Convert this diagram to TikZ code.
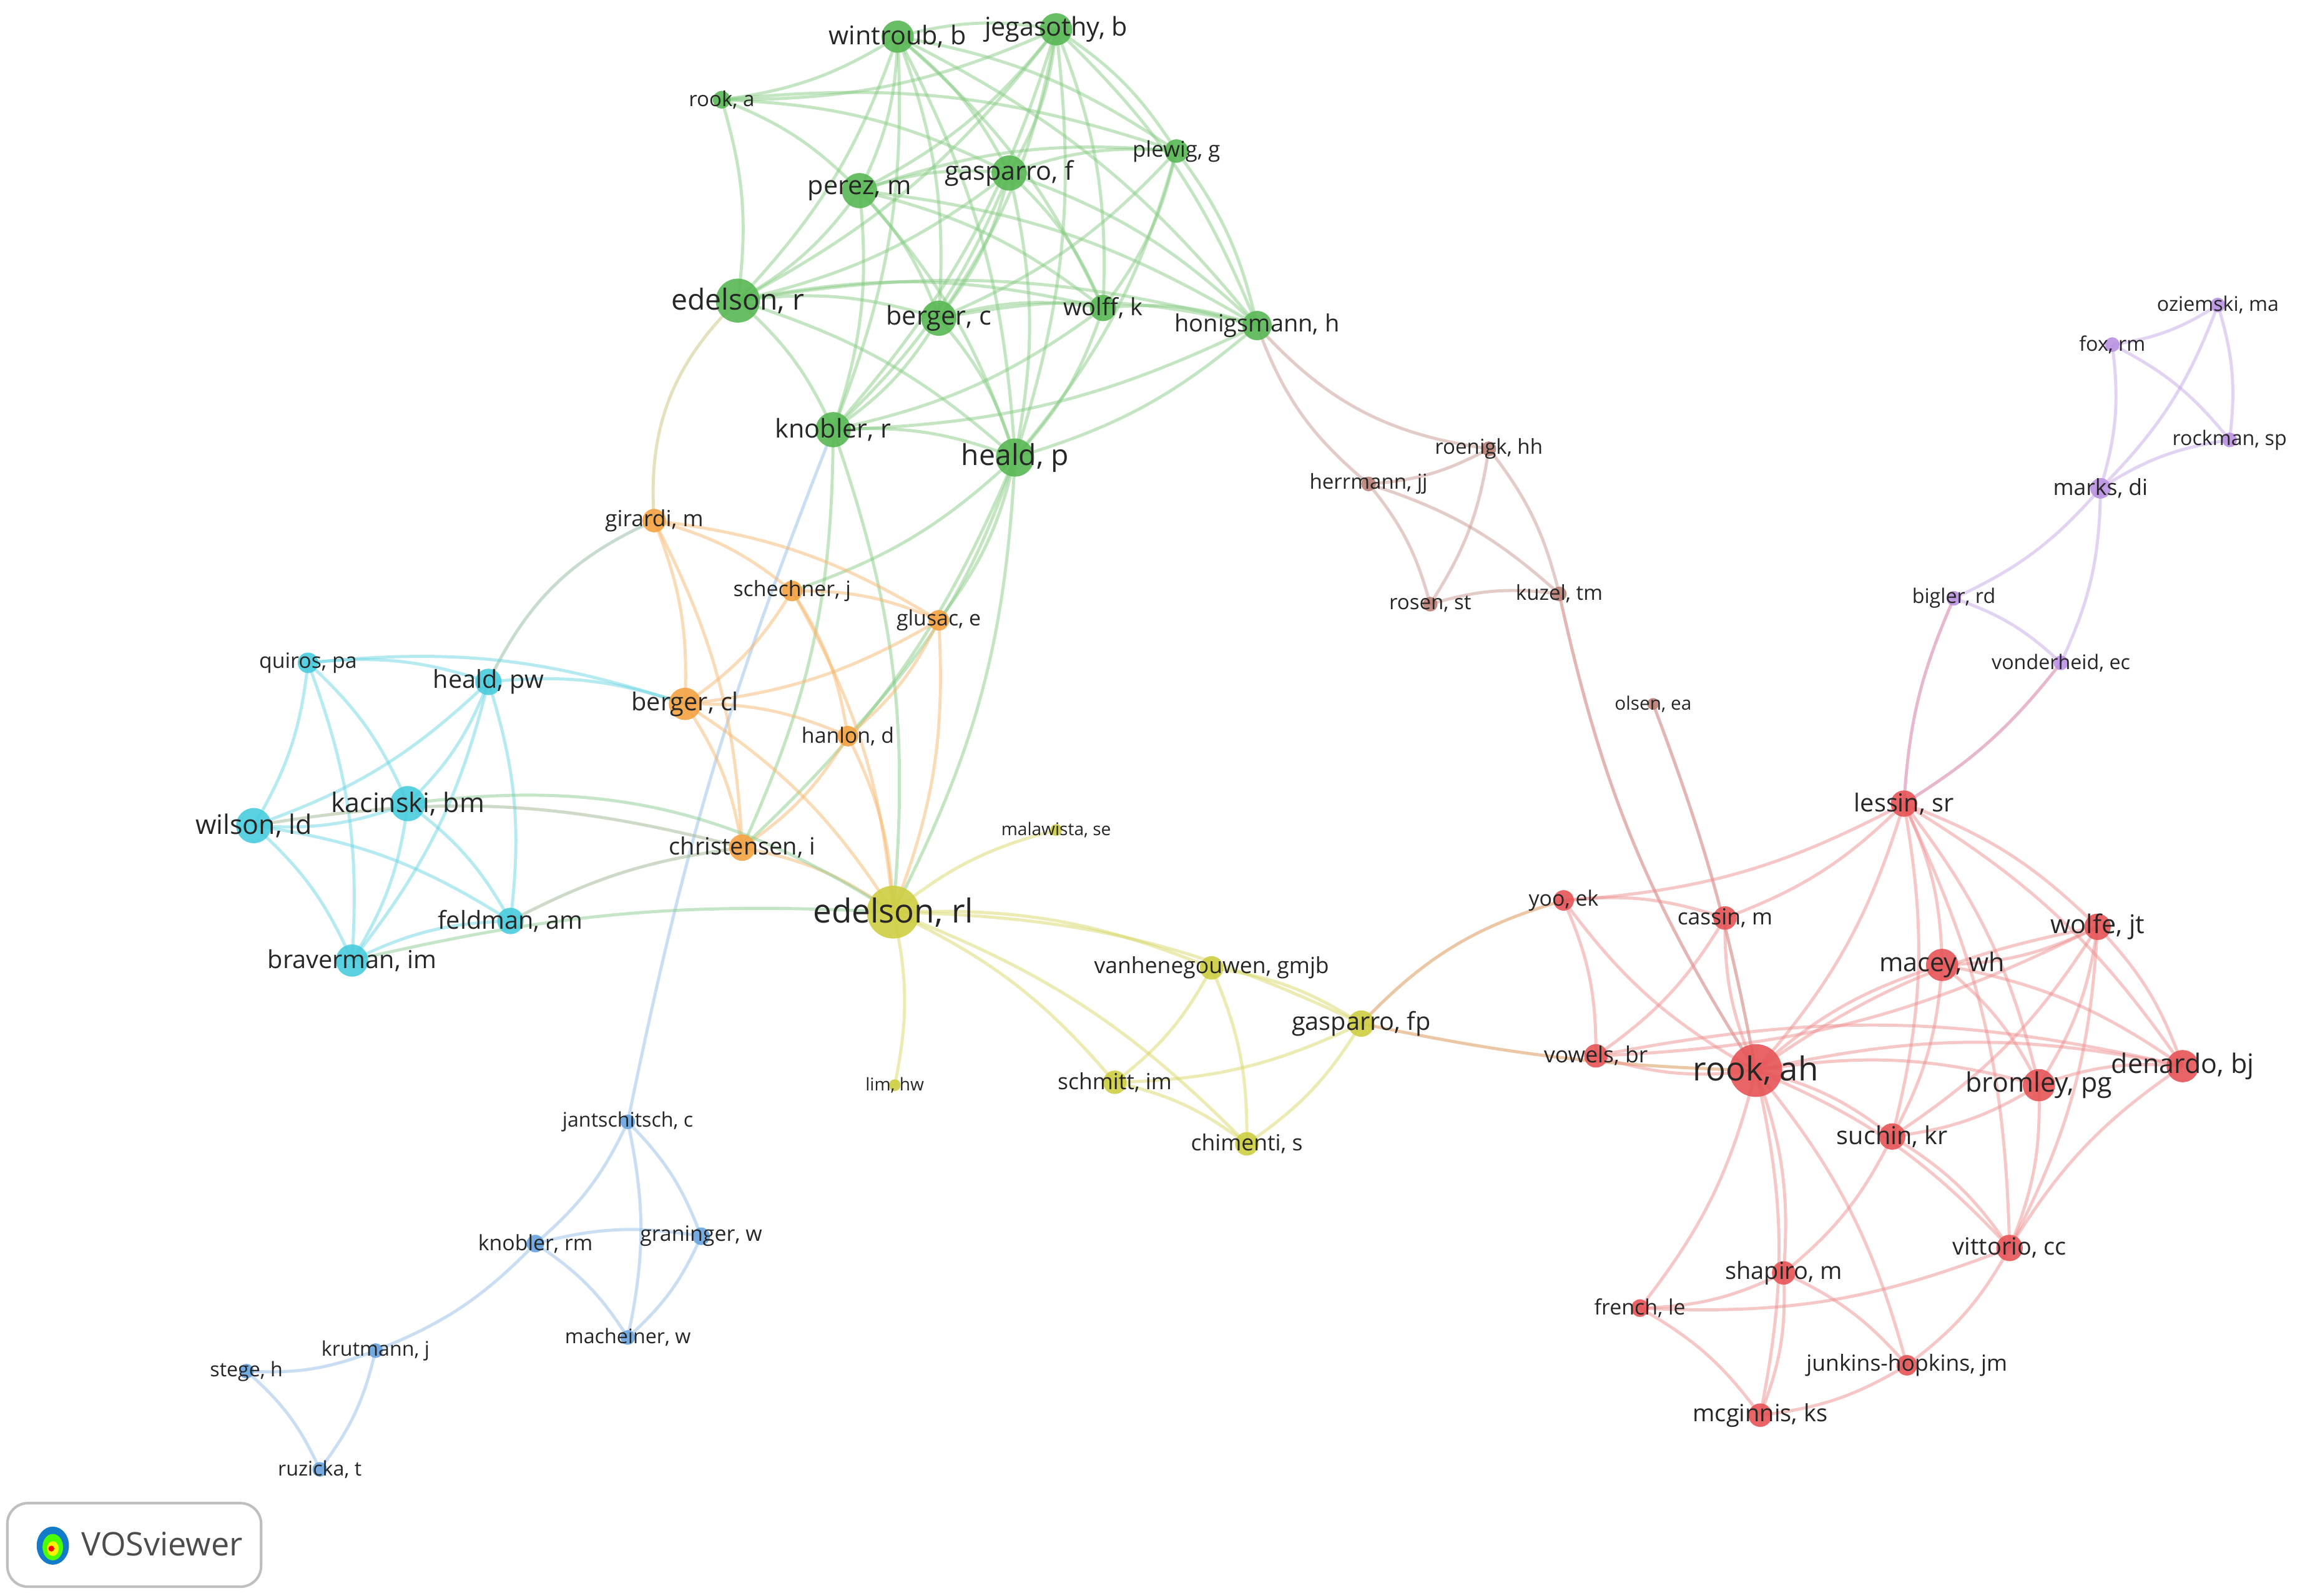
\documentclass[tikz,border=0pt]{standalone}
\usepackage{fontspec}
\setmainfont{Open Sans}
\definecolor{grn}{RGB}{88,184,84}
\definecolor{cyn}{RGB}{72,204,222}
\definecolor{org}{RGB}{244,162,66}
\definecolor{yel}{RGB}{206,206,66}
\definecolor{brn}{RGB}{186,128,118}
\definecolor{prp}{RGB}{186,146,226}
\definecolor{rd}{RGB}{230,84,86}
\definecolor{blu}{RGB}{104,164,222}
\tikzset{
  edge/.style={line width=0.6pt, opacity=0.5, bend left=12},
  authorlabel/.style={inner sep=0pt, text=black!85}
}
\begin{document}
\begin{tikzpicture}[x=0.01cm,y=-0.01cm]
\useasboundingbox[fill=white] (0,0) rectangle (1568,1088);
%authors: name/x/y/radius/colour/font size/label
\foreach \id/\x/\y/\r/\c/\fs/\lab in {
  wintroubb/612/25/11/grn/5/{wintroub, b},
  jegasothyb/720/20/11/grn/5/{jegasothy, b},
  rooka/492/68/6/grn/4/{rook, a},
  perezm/586/130/12/grn/5/{perez, m},
  gasparrof/688/118/12/grn/5/{gasparro, f},
  plewigg/802/103/8/grn/4.2/{plewig, g},
  edelsonr/503/205/15/grn/5.6/{edelson, r},
  bergerc/640/217/12/grn/5/{berger, c},
  wolffk/752/210/9/grn/4.6/{wolff, k},
  honigsmannh/857/222/10/grn/4.6/{honigsmann, h},
  knoblerr/568/293/12/grn/5/{knobler, r},
  healdp/692/312/13/grn/5.6/{heald, p},
  girardim/446/355/8/org/4.3/{girardi, m},
  schechnerj/540/403/7/org/4.1/{schechner, j},
  glusace/640/423/7/org/4.1/{glusac, e},
  bergercl/467/480/11/org/4.8/{berger, cl},
  hanlond/578/502/7/org/4.1/{hanlon, d},
  christenseni/506/578/9/org/4.6/{christensen, i},
  quirospa/210/452/7/cyn/4.1/{quiros, pa},
  healdpw/333/465/9/cyn/4.8/{heald, pw},
  kacinskibm/278/548/12/cyn/5.2/{kacinski, bm},
  wilsonld/173/563/12/cyn/5.2/{wilson, ld},
  feldmanam/348/628/9/cyn/4.8/{feldman, am},
  bravermanim/240/655/11/cyn/4.8/{braverman, im},
  edelsonrl/609/622/18/yel/6.4/{edelson, rl},
  malawistase/720/566/4/yel/3.4/{malawista, se},
  vanhenegouwengmjb/826/660/8/yel/4.3/{vanhenegouwen, gmjb},
  gasparrofp/928/698/9/yel/4.8/{gasparro, fp},
  schmittim/760/738/8/yel/4.3/{schmitt, im},
  chimentis/850/780/8/yel/4.3/{chimenti, s},
  limhw/610/740/4/yel/3.4/{lim, hw},
  roenigkhh/1015/306/5/brn/4/{roenigk, hh},
  herrmannjj/933/330/5/brn/4/{herrmann, jj},
  rosenst/975/412/5/brn/4/{rosen, st},
  kuzeltm/1063/405/5/brn/4/{kuzel, tm},
  olsenea/1127/480/4/brn/3.6/{olsen, ea},
  oziemskima/1512/208/5/prp/3.9/{oziemski, ma},
  foxrm/1440/235/5/prp/3.9/{fox, rm},
  rockmansp/1520/300/5/prp/3.9/{rockman, sp},
  marksdi/1432/333/7/prp/4.3/{marks, di},
  biglerrd/1332/408/5/prp/3.9/{bigler, rd},
  vonderheidec/1405/452/5/prp/3.9/{vonderheid, ec},
  lessinsr/1298/548/9/rd/4.8/{lessin, sr},
  yooek/1066/614/7/rd/4.1/{yoo, ek},
  cassinm/1176/626/8/rd/4.3/{cassin, m},
  wolfejt/1430/632/9/rd/5/{wolfe, jt},
  maceywh/1324/658/11/rd/5/{macey, wh},
  vowelsbr/1088/720/8/rd/4.3/{vowels, br},
  rookah/1197/730/18/rd/6.4/{rook, ah},
  bromleypg/1390/740/11/rd/5.2/{bromley, pg},
  denardobj/1488/727/11/rd/5.2/{denardo, bj},
  suchinkr/1290/775/9/rd/4.8/{suchin, kr},
  vittoriocc/1370/851/9/rd/4.6/{vittorio, cc},
  shapirom/1216/868/8/rd/4.6/{shapiro, m},
  frenchle/1118/892/6/rd/4.1/{french, le},
  junkinshopkinsjm/1300/931/7/rd/4.3/{junkins-hopkins, jm},
  mcginnisks/1200/965/8/rd/4.6/{mcginnis, ks},
  jantschitschc/428/765/5/blu/3.9/{jantschitsch, c},
  knoblerrm/365/848/6/blu/4.1/{knobler, rm},
  graningerw/478/843/6/blu/4.1/{graninger, w},
  macheinerw/428/912/5/blu/3.9/{macheiner, w},
  krutmannj/256/921/5/blu/3.9/{krutmann, j},
  stegeh/168/935/5/blu/3.9/{stege, h},
  ruzickat/218/1002/5/blu/3.9/{ruzicka, t}}
  \coordinate (\id) at (\x,\y);
%green links
\foreach \a/\b in {wintroubb/jegasothyb, wintroubb/rooka, wintroubb/perezm, wintroubb/gasparrof,
  wintroubb/plewigg, wintroubb/edelsonr, wintroubb/bergerc, wintroubb/wolffk, wintroubb/honigsmannh,
  wintroubb/knoblerr, wintroubb/healdp, jegasothyb/rooka, jegasothyb/perezm, jegasothyb/gasparrof,
  jegasothyb/plewigg, jegasothyb/edelsonr, jegasothyb/bergerc, jegasothyb/wolffk,
  jegasothyb/honigsmannh, jegasothyb/knoblerr, jegasothyb/healdp, rooka/perezm, rooka/gasparrof,
  rooka/plewigg, rooka/edelsonr, perezm/gasparrof, perezm/plewigg, perezm/edelsonr, perezm/bergerc,
  perezm/wolffk, perezm/honigsmannh, perezm/knoblerr, perezm/healdp, gasparrof/plewigg,
  gasparrof/edelsonr, gasparrof/bergerc, gasparrof/wolffk, gasparrof/honigsmannh,
  gasparrof/knoblerr, gasparrof/healdp, plewigg/bergerc, plewigg/wolffk, plewigg/honigsmannh,
  plewigg/healdp, edelsonr/bergerc, edelsonr/wolffk, edelsonr/honigsmannh, edelsonr/knoblerr,
  edelsonr/healdp, bergerc/wolffk, bergerc/honigsmannh, bergerc/knoblerr, bergerc/healdp,
  wolffk/honigsmannh, wolffk/knoblerr, wolffk/healdp, honigsmannh/knoblerr, honigsmannh/healdp,
  knoblerr/healdp, healdp/edelsonrl, healdp/schechnerj, healdp/christenseni, healdp/hanlond,
  knoblerr/edelsonrl, knoblerr/christenseni, healdp/glusace}
  \draw[edge, grn!70!white] (\a) to (\b);
\draw[edge, org!60!grn!70!white] (edelsonr) to[bend right=25] (girardim);
\draw[edge, blu!70!white] (knoblerr) to[bend right=5] (jantschitschc);
\draw[edge, brn!80!white] (honigsmannh) to[bend right=20] (roenigkhh);
\draw[edge, brn!80!white] (honigsmannh) to[bend right=15] (herrmannjj);
\draw[edge, cyn!60!org] (girardim) to[bend right=20] (healdpw);
%orange links
\foreach \a/\b in {girardim/schechnerj, girardim/bergercl, girardim/christenseni, girardim/glusace,
  schechnerj/glusace, schechnerj/bergercl, schechnerj/hanlond, schechnerj/edelsonrl,
  glusace/bergercl, glusace/hanlond, glusace/edelsonrl, bergercl/christenseni, bergercl/edelsonrl,
  bergercl/hanlond, hanlond/christenseni, hanlond/edelsonrl, christenseni/edelsonrl}
  \draw[edge, org!75!white] (\a) to (\b);
%cyan links
\foreach \a/\b in {quirospa/healdpw, quirospa/kacinskibm, quirospa/wilsonld, quirospa/bravermanim,
  quirospa/bergercl, healdpw/kacinskibm, healdpw/wilsonld, healdpw/bravermanim, healdpw/feldmanam,
  healdpw/bergercl, kacinskibm/wilsonld, kacinskibm/bravermanim, kacinskibm/feldmanam,
  wilsonld/bravermanim, wilsonld/feldmanam, bravermanim/feldmanam}
  \draw[edge, cyn!80!white] (\a) to (\b);
\draw[edge, cyn!50!yel] (kacinskibm) to[bend left=20] (edelsonrl);
\draw[edge, cyn!50!yel] (bravermanim) to[bend left=8] (edelsonrl);
\draw[edge, cyn!50!org] (feldmanam) to[bend left=10] (christenseni);
\draw[edge, cyn!50!org] (wilsonld) to[bend left=12] (christenseni);
%yellow links
\foreach \a/\b in {edelsonrl/malawistase, edelsonrl/vanhenegouwengmjb, edelsonrl/gasparrofp,
  edelsonrl/schmittim, edelsonrl/chimentis, edelsonrl/limhw, vanhenegouwengmjb/gasparrofp,
  vanhenegouwengmjb/schmittim, vanhenegouwengmjb/chimentis, gasparrofp/schmittim,
  gasparrofp/chimentis, schmittim/chimentis}
  \draw[edge, yel!80!white] (\a) to (\b);
\draw[edge, yel!50!rd] (gasparrofp) to[bend left=15] (yooek);
\draw[edge, yel!50!rd] (gasparrofp) to[bend right=5] (rookah);
%brown links
\foreach \a/\b in {roenigkhh/herrmannjj, roenigkhh/rosenst, roenigkhh/kuzeltm, herrmannjj/rosenst,
  herrmannjj/kuzeltm, rosenst/kuzeltm}
  \draw[edge, brn!80!white] (\a) to (\b);
\draw[edge, brn!60!rd] (kuzeltm) to[bend right=10] (rookah);
\draw[edge, brn!60!rd] (olsenea) to[bend left=5] (rookah);
%purple links
\foreach \a/\b in {oziemskima/foxrm, oziemskima/rockmansp, oziemskima/marksdi, foxrm/rockmansp,
  foxrm/marksdi, marksdi/rockmansp, marksdi/biglerrd, marksdi/vonderheidec, biglerrd/vonderheidec}
  \draw[edge, prp!80!white] (\a) to (\b);
\draw[edge, prp!50!rd] (biglerrd) to[bend right=10] (lessinsr);
\draw[edge, prp!50!rd] (vonderheidec) to[bend left=10] (lessinsr);
%red links
\foreach \a/\b in {lessinsr/rookah, lessinsr/wolfejt, lessinsr/maceywh, lessinsr/bromleypg,
  lessinsr/denardobj, lessinsr/suchinkr, lessinsr/cassinm, lessinsr/yooek, lessinsr/vittoriocc,
  rookah/yooek, rookah/cassinm, rookah/wolfejt, rookah/maceywh, rookah/vowelsbr, rookah/bromleypg,
  rookah/denardobj, rookah/suchinkr, rookah/vittoriocc, rookah/shapirom, rookah/frenchle,
  rookah/junkinshopkinsjm, rookah/mcginnisks, wolfejt/maceywh, wolfejt/bromleypg, wolfejt/denardobj,
  wolfejt/suchinkr, wolfejt/vittoriocc, wolfejt/vowelsbr, maceywh/bromleypg, maceywh/denardobj,
  maceywh/suchinkr, bromleypg/denardobj, bromleypg/suchinkr, bromleypg/vittoriocc,
  suchinkr/vittoriocc, suchinkr/shapirom, vittoriocc/denardobj, vittoriocc/junkinshopkinsjm,
  vittoriocc/frenchle, shapirom/mcginnisks, shapirom/junkinshopkinsjm, shapirom/frenchle,
  junkinshopkinsjm/mcginnisks, frenchle/mcginnisks, yooek/vowelsbr, cassinm/vowelsbr, yooek/cassinm,
  vowelsbr/denardobj}
  \draw[edge, rd!65!white] (\a) to (\b);
%blue links
\foreach \a/\b in {jantschitschc/knoblerrm, jantschitschc/graningerw, jantschitschc/macheinerw,
  knoblerrm/graningerw, knoblerrm/macheinerw, graningerw/macheinerw, knoblerrm/krutmannj,
  krutmannj/stegeh, krutmannj/ruzickat, stegeh/ruzickat}
  \draw[edge, blu!70!white] (\a) to (\b);
%circles and labels
\foreach \id/\x/\y/\r/\c/\fs/\lab in {
  wintroubb/612/25/11/grn/5/{wintroub, b},
  jegasothyb/720/20/11/grn/5/{jegasothy, b},
  rooka/492/68/6/grn/4/{rook, a},
  perezm/586/130/12/grn/5/{perez, m},
  gasparrof/688/118/12/grn/5/{gasparro, f},
  plewigg/802/103/8/grn/4.2/{plewig, g},
  edelsonr/503/205/15/grn/5.6/{edelson, r},
  bergerc/640/217/12/grn/5/{berger, c},
  wolffk/752/210/9/grn/4.6/{wolff, k},
  honigsmannh/857/222/10/grn/4.6/{honigsmann, h},
  knoblerr/568/293/12/grn/5/{knobler, r},
  healdp/692/312/13/grn/5.6/{heald, p},
  girardim/446/355/8/org/4.3/{girardi, m},
  schechnerj/540/403/7/org/4.1/{schechner, j},
  glusace/640/423/7/org/4.1/{glusac, e},
  bergercl/467/480/11/org/4.8/{berger, cl},
  hanlond/578/502/7/org/4.1/{hanlon, d},
  christenseni/506/578/9/org/4.6/{christensen, i},
  quirospa/210/452/7/cyn/4.1/{quiros, pa},
  healdpw/333/465/9/cyn/4.8/{heald, pw},
  kacinskibm/278/548/12/cyn/5.2/{kacinski, bm},
  wilsonld/173/563/12/cyn/5.2/{wilson, ld},
  feldmanam/348/628/9/cyn/4.8/{feldman, am},
  bravermanim/240/655/11/cyn/4.8/{braverman, im},
  edelsonrl/609/622/18/yel/6.4/{edelson, rl},
  malawistase/720/566/4/yel/3.4/{malawista, se},
  vanhenegouwengmjb/826/660/8/yel/4.3/{vanhenegouwen, gmjb},
  gasparrofp/928/698/9/yel/4.8/{gasparro, fp},
  schmittim/760/738/8/yel/4.3/{schmitt, im},
  chimentis/850/780/8/yel/4.3/{chimenti, s},
  limhw/610/740/4/yel/3.4/{lim, hw},
  roenigkhh/1015/306/5/brn/4/{roenigk, hh},
  herrmannjj/933/330/5/brn/4/{herrmann, jj},
  rosenst/975/412/5/brn/4/{rosen, st},
  kuzeltm/1063/405/5/brn/4/{kuzel, tm},
  olsenea/1127/480/4/brn/3.6/{olsen, ea},
  oziemskima/1512/208/5/prp/3.9/{oziemski, ma},
  foxrm/1440/235/5/prp/3.9/{fox, rm},
  rockmansp/1520/300/5/prp/3.9/{rockman, sp},
  marksdi/1432/333/7/prp/4.3/{marks, di},
  biglerrd/1332/408/5/prp/3.9/{bigler, rd},
  vonderheidec/1405/452/5/prp/3.9/{vonderheid, ec},
  lessinsr/1298/548/9/rd/4.8/{lessin, sr},
  yooek/1066/614/7/rd/4.1/{yoo, ek},
  cassinm/1176/626/8/rd/4.3/{cassin, m},
  wolfejt/1430/632/9/rd/5/{wolfe, jt},
  maceywh/1324/658/11/rd/5/{macey, wh},
  vowelsbr/1088/720/8/rd/4.3/{vowels, br},
  rookah/1197/730/18/rd/6.4/{rook, ah},
  bromleypg/1390/740/11/rd/5.2/{bromley, pg},
  denardobj/1488/727/11/rd/5.2/{denardo, bj},
  suchinkr/1290/775/9/rd/4.8/{suchin, kr},
  vittoriocc/1370/851/9/rd/4.6/{vittorio, cc},
  shapirom/1216/868/8/rd/4.6/{shapiro, m},
  frenchle/1118/892/6/rd/4.1/{french, le},
  junkinshopkinsjm/1300/931/7/rd/4.3/{junkins-hopkins, jm},
  mcginnisks/1200/965/8/rd/4.6/{mcginnis, ks},
  jantschitschc/428/765/5/blu/3.9/{jantschitsch, c},
  knoblerrm/365/848/6/blu/4.1/{knobler, rm},
  graningerw/478/843/6/blu/4.1/{graninger, w},
  macheinerw/428/912/5/blu/3.9/{macheiner, w},
  krutmannj/256/921/5/blu/3.9/{krutmann, j},
  stegeh/168/935/5/blu/3.9/{stege, h},
  ruzickat/218/1002/5/blu/3.9/{ruzicka, t}}
{
  \fill[\c, opacity=0.9] (\id) circle[radius={\r*0.01cm}];
  \node[authorlabel, font=\fontsize{\fs pt}{\fs pt}\selectfont] (l-\id) at (\id) {\lab};
}
%logo
\draw[black!25, line width=0.5pt, rounded corners=4pt] (5,1025) rectangle (178,1082);
\fill[cyan!60!blue] (36,1054) ellipse[x radius=11, y radius=13];
\fill[green!70!yellow] (36,1055) ellipse[x radius=7, y radius=9];
\fill[yellow] (36,1056) ellipse[x radius=4, y radius=5];
\fill[red] (35,1056) circle[radius=0.02cm];
\node[inner sep=0pt, anchor=west, text=black!70, font=\fontsize{6.3pt}{7pt}\selectfont] (logo) at (55,1053) {VOSviewer};
\end{tikzpicture}
\end{document}
